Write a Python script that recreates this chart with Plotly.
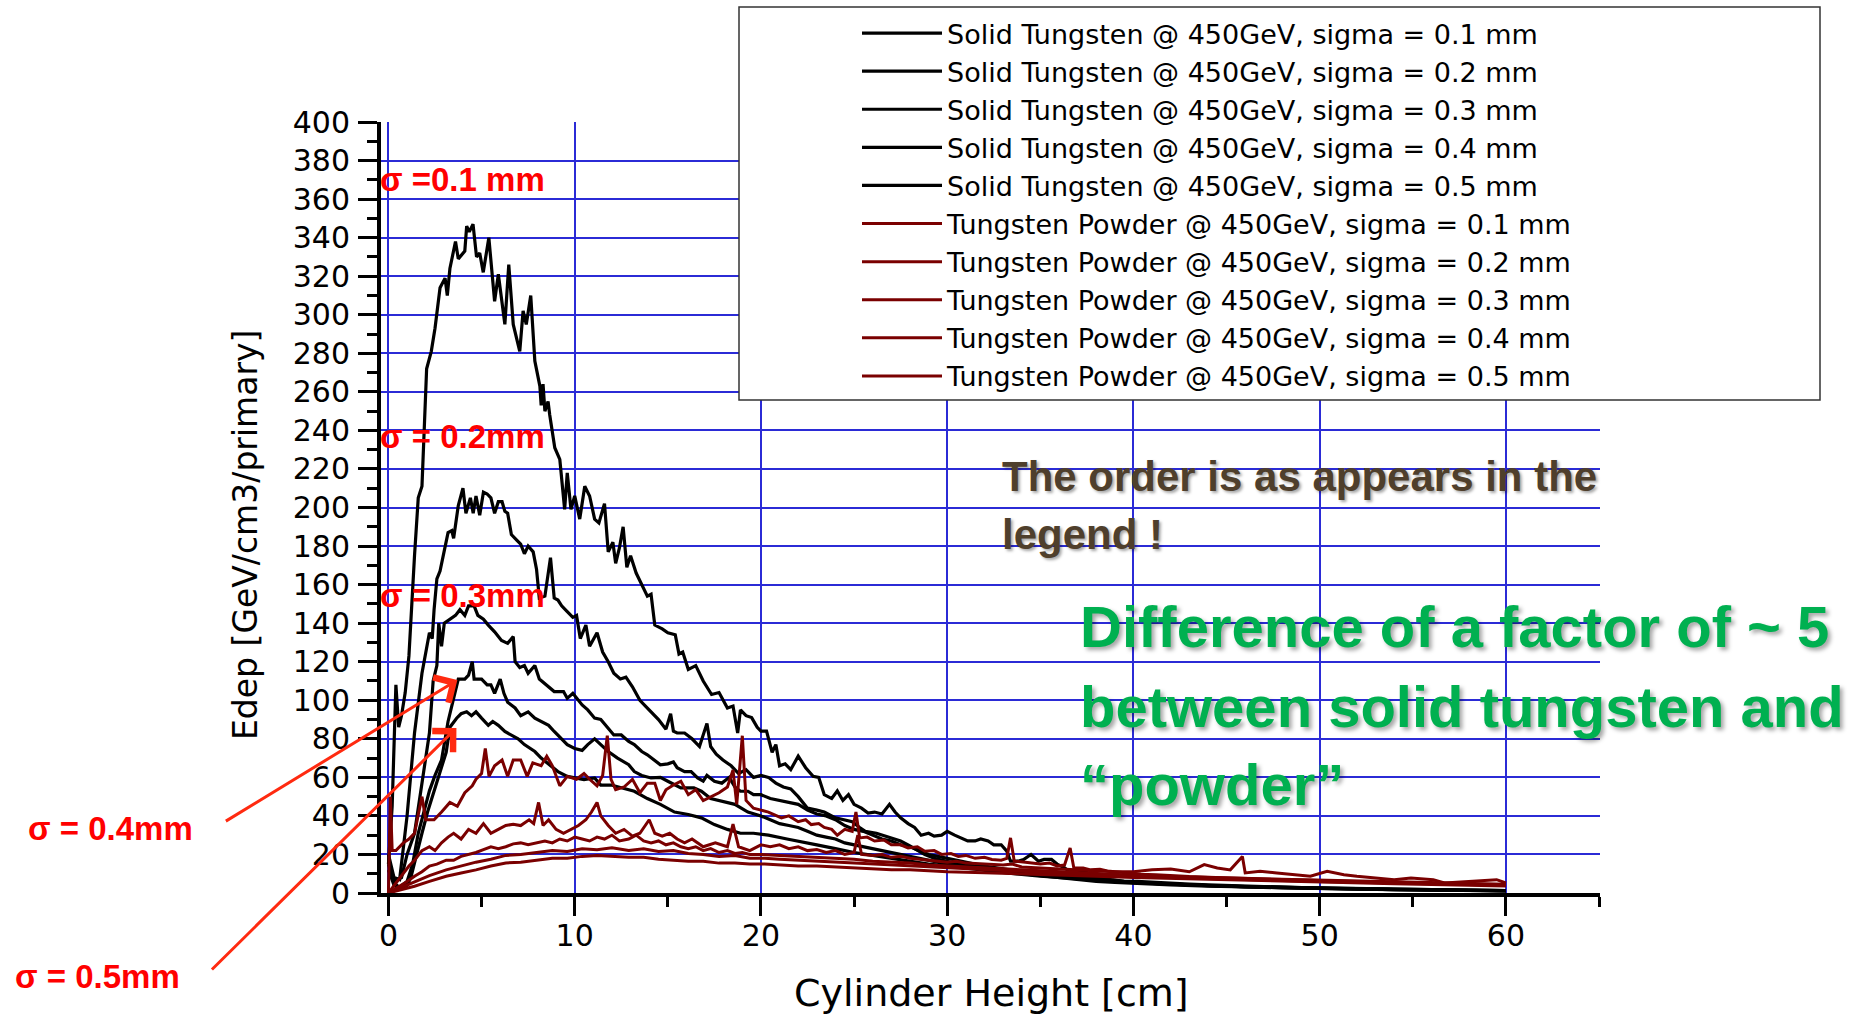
import plotly.graph_objects as go

# ---------------- data ----------------
s1_x = [0, 0.2, 0.4, 0.55, 0.7, 0.9, 1.1, 1.25, 1.4, 1.6, 1.8, 2.05, 2.3, 2.5, 2.77, 3.04, 3.16, 3.3, 3.6, 3.75,
        4.1, 4.2, 4.34, 4.54, 4.73, 4.9, 5.09, 5.39, 5.7, 5.9, 6.25, 6.46, 6.7, 7.05, 7.23, 7.4, 7.64, 7.86, 8.13, 8.2,
        8.3, 8.4, 8.57, 8.66, 8.93, 9.2, 9.46, 9.6, 9.8, 10.0, 10.27, 10.54, 10.8, 11.07, 11.3, 11.6, 11.8, 12.05, 12.2, 12.4,
        12.6, 12.8, 13.0, 13.3, 13.6, 13.9, 14.1, 14.3, 14.7, 15.0, 15.4, 15.6, 15.8, 16.1, 16.5, 16.9, 17.35, 17.75, 18.2, 18.5,
        18.75, 18.9, 19.2, 19.5, 19.8, 20.0, 20.3, 20.6, 20.8, 21.0, 21.3, 21.6, 22.0, 22.4, 22.8, 23.1, 23.4, 23.8, 24.1, 24.4,
        24.7, 25.0, 25.4, 25.75, 26.1, 26.5, 26.9, 27.2, 27.5, 27.9, 28.25, 28.6, 29.0, 29.3, 29.7, 30.0, 30.4, 30.75, 31.1, 31.5,
        31.8, 32.2, 32.5, 32.9, 33.2, 33.4, 33.8, 34.1, 34.5, 34.9, 35.2, 35.6, 35.9, 36.3, 36.6, 37.4, 38.0, 38.8, 39.5, 40.2,
        41, 42, 43, 44, 45, 46, 47, 48, 49, 50, 52, 54, 56, 58, 60]
s1_y = [15, 45, 108, 86, 92, 104, 123, 150, 175, 205, 211, 272, 281, 293, 314, 319, 310, 324, 338, 329,
        333, 346, 343, 347, 330, 332, 322, 340, 307, 321, 295, 326, 295, 281, 302, 295, 310, 276, 263, 253,
        264, 250, 255, 248, 231, 225, 199, 218, 199, 206, 194, 211, 206, 194, 192, 202, 177, 182, 171, 179,
        190, 169, 175, 166, 160, 154, 155, 139, 137, 135, 134, 124, 125, 116, 118, 110, 103, 104, 96, 97,
        83, 95, 92, 91, 86, 84, 84, 73, 77, 66, 67, 64, 71, 65, 60.5, 60, 51, 49, 53, 48,
        51, 46, 44, 41.5, 42, 41, 46, 42, 39, 36, 34, 30, 31, 29.5, 30, 32, 30, 28.6, 27, 27,
        28, 27, 25, 25, 21.7, 16.5, 16.5, 17.4, 20, 16.5, 17.4, 17.4, 15, 13, 11, 11, 9, 7, 6, 6,
        5.5, 5, 4.6, 4.2, 4, 3.6, 3.3, 3, 2.8, 2.5, 2.2, 1.9, 1.6, 1.4, 1.2]

s2_x = [0, 0.3, 0.6, 1.0, 1.4, 1.8, 2.2, 2.35, 2.45, 2.6, 2.77, 3.0, 3.2, 3.4, 3.5, 3.75, 4.0, 4.16, 4.4, 4.55,
        4.7, 4.9, 5.1, 5.3, 5.5, 5.7, 5.9, 6.1, 6.25, 6.4, 6.6, 6.9, 7.1, 7.3, 7.5, 7.77, 7.95, 8.1, 8.4, 8.7,
        8.9, 9.1, 9.3, 9.6, 9.9, 10.1, 10.3, 10.6, 10.8, 11.2, 11.5, 11.8, 12.1, 12.45, 12.75, 13.1, 13.5, 13.8, 14.1, 14.5,
        14.9, 15.15, 15.3, 15.5, 15.9, 16.3, 16.7, 17.1, 17.3, 17.6, 17.96, 18.4, 18.8, 19.2, 19.6, 20.0, 20.4, 20.8, 21.2, 21.6,
        22.0, 22.5, 23.0, 23.4, 24.0, 24.5, 24.9, 25.3, 25.6, 26.2, 27.0, 27.5, 27.9, 28.4, 28.8, 29.3, 29.9, 30.6, 31.5, 32.4,
        33.2, 34.1, 35.0, 35.9, 37.0, 37.7, 38.6, 39.5, 40.5, 42, 44, 46, 48, 50, 52, 54, 56, 58, 60]
s2_y = [20, 8, 7, 40, 83, 114, 135, 132, 147, 163, 167, 177, 187, 188, 184, 201, 210, 197, 205, 197,
        206, 196, 208, 207, 205, 197, 203, 203, 198, 197, 186, 183, 181, 176, 180, 177, 168, 153, 154, 174,
        153, 152, 149, 146, 143, 144, 132, 139, 128, 135, 125, 120, 114, 111, 112, 107, 100, 97, 94, 90,
        85, 93, 84, 83, 83, 80, 76, 88, 76, 72, 69, 66, 62, 64, 60, 61, 60, 57, 55, 54,
        50, 44, 43, 42, 39, 38, 37, 34, 32, 31, 28.6, 27, 25, 22, 20, 18, 16.5, 15, 14, 13,
        12, 11, 10.5, 9.7, 8.8, 8, 7, 6, 5.2, 4.6, 3.8, 3.2, 2.7, 2.3, 2, 1.7, 1.5, 1.3, 1.1]

s3_x = [0, 0.3, 0.7, 1.0, 1.4, 1.8, 2.2, 2.4, 2.6, 2.7, 2.85, 3.0, 3.3, 3.6, 3.84, 4.1, 4.3, 4.6, 4.8, 5.1,
        5.36, 5.7, 6.07, 6.4, 6.7, 6.8, 7.05, 7.3, 7.5, 7.86, 8.1, 8.5, 8.9, 9.4, 9.6, 9.9, 10.1, 10.4, 10.7, 11.07,
        11.4, 11.8, 12.1, 12.5, 12.9, 13.2, 13.6, 13.9, 14.3, 14.6, 15.0, 15.3, 15.5, 15.9, 16.25, 16.6, 16.9, 17.1, 17.5, 17.9,
        18.3, 18.6, 18.9, 19.3, 19.6, 20.0, 20.5, 21.0, 21.5, 22.0, 22.5, 23.0, 23.5, 24.0, 24.5, 25.0, 25.5, 26.0, 26.5, 27.0,
        27.5, 28.0, 28.5, 29.0, 29.5, 30.0, 31.0, 32.0, 33.0, 34.0, 35.0, 36.0, 37.0, 38.0, 39.0, 40.0, 42, 44, 46, 48,
        50, 52, 54, 56, 58, 60]
s3_y = [18, 6, 8, 20, 31, 57, 83, 110, 118, 140, 128, 140, 142, 144, 147, 144, 149, 149, 144, 142,
        139, 135.5, 131, 129.5, 133, 120, 117, 118, 114, 118, 111, 108, 104.5, 104.5, 101, 103.6, 101, 97.6, 95, 90.7,
        90, 85.5, 82, 82, 78.6, 77, 73.4, 71.7, 69, 66.5, 67, 68, 65, 63, 63, 59.7, 58, 61, 58, 57,
        60, 55, 52.8, 52.8, 51, 51, 49, 48, 47, 46, 43, 41, 40, 38, 35, 33, 32, 30, 28, 27,
        25, 24, 22, 20, 19, 18, 16, 14, 12.5, 11, 10, 9, 8, 7, 6.2, 5.5, 4.6, 3.9, 3.3, 2.8,
        2.4, 2.1, 1.8, 1.5, 1.3, 1.1]

s4_x = [0, 0.3, 0.6, 1.0, 1.3, 1.6, 1.9, 2.2, 2.5, 2.85, 3.2, 3.5, 3.75, 4.1, 4.3, 4.5, 4.6, 5.0, 5.3, 5.5,
        5.7, 6.0, 6.2, 6.4, 6.8, 7.1, 7.5, 7.86, 8.2, 8.6, 8.9, 9.3, 9.6, 10.0, 10.4, 10.7, 11.07, 11.4, 11.8, 12.3,
        12.9, 13.2, 13.6, 14.1, 14.6, 15.0, 15.7, 16.4, 16.8, 17.3, 17.9, 18.6, 19.3, 20.0, 20.5, 21.0, 21.5, 22.0, 22.5, 23.0,
        23.5, 24.0, 24.5, 25.0, 25.5, 26.0, 27.0, 28.0, 29.0, 30.0, 31.0, 32.0, 33.0, 34.0, 35.0, 36.0, 37.0, 38.0, 39.0, 40.0,
        42, 44, 46, 48, 50, 52, 54, 56, 58, 60]
s4_y = [15, 5, 3, 6, 15, 31, 42, 53, 61, 69, 89, 101, 111, 111, 113, 120, 111, 111, 108, 108,
        103.6, 111, 103.6, 99, 96, 92, 94, 90.7, 89, 87, 83.8, 80, 77, 75, 74, 77, 80, 77, 73.4, 70,
        66.6, 63, 61, 59.7, 60, 58, 54.5, 54.5, 52.8, 49, 47.6, 46, 42, 40, 38, 36, 35, 34, 32, 30,
        29, 28, 26, 25, 24, 23, 21, 19, 17, 15, 13.5, 12, 11, 10, 9, 8, 7, 6, 5.5, 5,
        4.2, 3.6, 3.1, 2.7, 2.3, 2, 1.8, 1.6, 1.4, 1.2]

s5_x = [0, 0.3, 0.6, 1.0, 1.2, 1.5, 1.8, 2.1, 2.45, 2.8, 3.1, 3.3, 3.66, 3.9, 4.2, 4.46, 4.7, 5.0, 5.36, 5.6,
        5.9, 6.25, 6.6, 6.96, 7.3, 7.86, 8.2, 8.66, 9.1, 9.6, 10.0, 10.5, 11.07, 11.4, 11.96, 12.5, 13.2, 13.9, 14.6, 15.36,
        16.1, 16.8, 17.5, 18.2, 18.9, 19.6, 20.4, 21.4, 22, 23, 24, 25, 26, 27, 28, 29, 30, 31, 32, 33,
        34, 35, 36, 37, 38, 39, 40, 42, 44, 46, 48, 50, 52, 54, 56, 58, 60]
s5_y = [12, 4, 2, 4, 8, 20, 31, 42, 53, 63, 73, 86, 90.7, 93, 94, 92, 94, 90.7, 87, 89,
        87, 83.8, 82, 80, 77, 73.4, 70, 66.6, 63, 60.5, 59.7, 58.8, 59.7, 56, 56, 54.5, 52.8, 49, 46, 42,
        40.7, 39, 35.5, 33, 31, 31, 30, 28, 27, 25, 23, 21, 19.5, 18, 16.5, 15, 14, 12.8, 11.6, 10.6,
        9.6, 8.8, 8, 7.3, 6.6, 6, 5.4, 4.5, 3.8, 3.3, 2.9, 2.5, 2.2, 1.9, 1.7, 1.5, 1.3]

p1_x = [0, 0.1, 0.2, 0.4, 0.8, 1.1, 1.4, 1.8, 2.0, 2.45, 2.85, 3.3, 3.7, 4.1, 4.5, 4.7, 5.0, 5.2, 5.4, 5.7,
        6.1, 6.4, 6.7, 7.1, 7.45, 7.75, 8.2, 8.5, 8.8, 9.2, 9.6, 10.1, 10.5, 10.8, 11.2, 11.5, 11.75, 11.95, 12.2, 12.65,
        13.1, 13.5, 13.9, 14.3, 14.6, 14.9, 15.3, 15.7, 16.1, 16.5, 16.9, 17.3, 17.75, 18.2, 18.5, 18.7, 19.0, 19.2, 19.6, 20.0,
        20.4, 20.7, 21.1, 21.5, 22.0, 22.4, 22.7, 23.1, 23.4, 23.8, 24.1, 24.5, 24.9, 25.1, 25.3, 25.7, 26.1, 26.6, 27.0, 27.5,
        27.9, 28.4, 28.8, 29.3, 29.7, 30.2, 30.6, 31.0, 31.5, 32.0, 32.4, 32.9, 33.2, 33.4, 33.6, 34.2, 35.0, 35.5, 35.9, 36.3,
        36.6, 36.8, 37.3, 37.7, 38.2, 38.6, 39.1, 39.5, 40.4, 41.2, 42, 43, 44, 45, 46, 47, 48, 49, 50, 51,
        52, 53, 54, 55, 56, 57, 58, 59, 60]
p1_y = [0, 50, 22, 22, 26, 28, 31, 50, 38, 38, 42, 47, 45, 52, 55.6, 59, 62, 75, 60.5, 66,
        69, 60.5, 69, 69, 60.5, 67.5, 66, 71, 66, 55.6, 60.5, 59, 62, 59, 55.6, 61, 81.6, 59, 53.6, 55,
        59, 52, 57, 57, 48, 53.6, 56, 58, 51, 53.6, 48, 50, 52, 55, 63.8, 46, 81.6, 48, 44, 43,
        42, 40.7, 39, 40, 37, 38, 35.5, 36, 34, 33, 30, 33, 32, 42, 28.6, 29, 27, 27.5, 25, 25,
        23.4, 24, 21.7, 22, 20, 20.5, 19, 19.5, 18, 18.5, 17.4, 17, 18, 28.6, 16.5, 16, 15, 15.5, 14, 14.5,
        23.4, 13, 13, 12, 12.3, 11.4, 11, 10.5, 9.7, 9.5, 9, 8.5, 8.2, 7.8, 7.6, 7.2, 7, 6.8, 6.5, 6.4,
        6, 5.7, 5.5, 5.2, 5, 4.7, 4.5, 4.3, 4]

p2_x = [0, 0.4, 0.8, 1.1, 1.4, 1.8, 2.2, 2.5, 2.85, 3.2, 3.5, 3.9, 4.3, 4.7, 5.1, 5.5, 5.9, 6.3, 6.7, 7.1,
        7.55, 7.8, 8.06, 8.3, 8.6, 9.0, 9.4, 9.8, 10.2, 10.6, 10.9, 11.2, 11.4, 11.8, 12.2, 12.65, 13.1, 13.5, 14.0, 14.3,
        14.7, 15.1, 15.5, 15.9, 16.3, 16.9, 17.55, 18.2, 18.5, 18.8, 19.4, 20.0, 20.5, 21.0, 21.5, 22.0, 22.5, 23.0, 23.5, 24.0,
        24.5, 25.0, 25.2, 25.4, 26.0, 26.5, 27.0, 27.5, 28.0, 28.5, 29.0, 29.5, 30.0, 30.5, 31.0, 32.0, 33.0, 33.5, 34.0, 35.0,
        36.0, 37.0, 38.0, 39.0, 40.0, 41.0, 42.0, 43.0, 43.8, 44.5, 45.2, 45.85, 46.0, 46.8, 47.7, 48.6, 49.5, 50.4, 51.3, 52.0,
        53.1, 54.0, 54.9, 56.1, 56.7, 58.1, 59.5, 60.0]
p2_y = [0, 5, 10, 14, 17, 22, 24, 22, 26, 29, 31, 28, 33, 31, 36, 31, 33, 35, 35.7, 35,
        38, 36, 47, 35, 38, 33, 31, 33, 35, 38, 42, 47, 40, 35, 31, 33, 29.5, 31, 38, 31,
        29.5, 31, 28, 26, 28, 24, 26, 24, 35.7, 24, 22, 25, 24, 25, 23, 24, 22, 22.5, 21, 22,
        20, 21, 30, 20, 19.5, 20, 18.5, 19, 18, 17.5, 17, 16.5, 16, 16.5, 15.5, 15, 14.5, 15, 13.5, 13,
        12.5, 12, 11.5, 11, 11, 12, 12.5, 11, 14.7, 13, 12, 19, 10.4, 11.3, 10.4, 9.5, 8.7, 11.3, 9.5, 8.7,
        7.8, 6.9, 7.8, 6.9, 5.2, 6, 6.9, 5.2]

p3_x = [0, 0.6, 1.0, 1.4, 1.8, 2.2, 2.6, 3.1, 3.5, 3.9, 4.3, 4.7, 5.1, 5.5, 5.9, 6.3, 6.7, 7.1, 7.5, 8.0,
        8.4, 8.8, 9.2, 9.6, 10.0, 10.4, 10.8, 11.2, 11.6, 12.0, 12.4, 12.9, 13.3, 13.7, 14.1, 14.5, 14.9, 15.3, 15.7, 16.1,
        16.5, 16.9, 17.3, 17.75, 18.2, 18.6, 19.0, 19.4, 20, 21, 22, 23, 24, 25, 26, 27, 28, 29, 30, 31,
        32, 33, 34, 35, 36, 37, 38, 39, 40, 42, 44, 46, 48, 50, 52, 54, 56, 58, 60]
p3_y = [0, 3.5, 6, 8.7, 11, 14, 15, 17, 17, 19, 20, 21, 22.5, 24, 23, 24, 25.5, 26, 25, 26,
        27, 26, 28, 27, 29, 28, 27, 29, 28, 30, 27, 28, 30, 27, 26, 27, 25, 26, 24, 23,
        24, 22, 23, 21, 22, 20.5, 21, 20, 20, 19.5, 19, 18.5, 18, 17.5, 16.5, 16, 15.5, 14.5, 14, 13.5,
        13, 12.5, 12, 11.5, 11, 10.5, 10, 9.5, 9.2, 8.5, 8, 7.5, 7, 6.6, 6.2, 5.8, 5.4, 5, 4.6]

p4_x = [0, 1.0, 1.4, 2.2, 3.1, 3.9, 4.7, 5.5, 6.3, 7.1, 8.0, 8.8, 9.6, 10.4, 11.2, 12.0, 12.9, 13.7, 14.5, 15.3,
        16.1, 16.9, 17.75, 18.6, 19.4, 20.2, 21, 22, 23, 24, 25, 26, 27, 28, 29, 30, 32, 34, 36, 38,
        40, 42, 44, 46, 48, 50, 52, 54, 56, 58, 60]
p4_y = [0, 4, 6, 9, 12, 14, 16, 17.5, 19.5, 20, 21, 22, 21.5, 23, 22.5, 23.5, 22, 23, 21.5, 22,
        20.5, 20, 19, 19.5, 18, 18, 17.5, 17, 16.5, 16, 15.5, 15, 14.5, 14, 13.5, 13, 12, 11, 10, 9.3,
        8.6, 8, 7.5, 7, 6.5, 6, 5.6, 5.2, 4.8, 4.4, 4]

p5_x = [0, 1.4, 2.2, 3.1, 3.9, 4.7, 5.5, 6.3, 7.1, 8.0, 8.8, 9.6, 10.4, 11.2, 12.0, 12.9, 13.7, 14.5, 15.3, 16.1,
        16.9, 17.75, 18.6, 19.4, 20.2, 21, 22, 23, 24, 25, 26, 27, 28, 29, 30, 32, 34, 36, 38, 40,
        42, 44, 46, 48, 50, 52, 54, 56, 58, 60]
p5_y = [0, 3.5, 6, 8.7, 10.4, 12, 14, 15.6, 16, 17, 18, 18, 19, 19.5, 19, 18.5, 18.5, 17.5, 17, 16.5,
        16.5, 15.5, 15.5, 15, 15, 14.5, 14, 14, 13.5, 13, 12.5, 12, 12, 11.5, 11, 10.5, 10, 9.3, 8.7, 8,
        7.5, 7, 6.5, 6, 5.6, 5.2, 4.8, 4.4, 4, 3.6]

solid_names = ["Solid Tungsten @ 450GeV, sigma = 0.1 mm",
               "Solid Tungsten @ 450GeV, sigma = 0.2 mm",
               "Solid Tungsten @ 450GeV, sigma = 0.3 mm",
               "Solid Tungsten @ 450GeV, sigma = 0.4 mm",
               "Solid Tungsten @ 450GeV, sigma = 0.5 mm"]
powder_names = ["Tungsten Powder @ 450GeV, sigma = 0.1 mm",
                "Tungsten Powder @ 450GeV, sigma = 0.2 mm",
                "Tungsten Powder @ 450GeV, sigma = 0.3 mm",
                "Tungsten Powder @ 450GeV, sigma = 0.4 mm",
                "Tungsten Powder @ 450GeV, sigma = 0.5 mm"]

x_ticks = [0, 10, 20, 30, 40, 50, 60]
y_ticks = list(range(0, 401, 20))

# ---------------- figure ----------------
BLACK = "#000000"
DARKRED = "#7a0000"
GRID = "#2b2bd6"
TXT = "DejaVu Sans"

fig = go.Figure()
solid = [(s1_x, s1_y), (s2_x, s2_y), (s3_x, s3_y), (s4_x, s4_y), (s5_x, s5_y)]
powder = [(p1_x, p1_y), (p2_x, p2_y), (p3_x, p3_y), (p4_x, p4_y), (p5_x, p5_y)]
for (xs, ys), nm in zip(solid, solid_names):
    fig.add_trace(go.Scatter(x=xs, y=ys, mode="lines", name=nm,
                             line=dict(color=BLACK, width=3.2)))
for (xs, ys), nm in zip(powder, powder_names):
    fig.add_trace(go.Scatter(x=xs, y=ys, mode="lines", name=nm,
                             line=dict(color=DARKRED, width=3)))

L, R, T, B = 381, 256, 122, 123
W, H = 1856, 1016
pw, ph = W - L - R, H - T - B


def px(xp):
    return (xp - L) / pw


def py(yp):
    return (H - B - yp) / ph


axis_common = dict(
    showline=True, linecolor="black", linewidth=4,
    ticks="outside", ticklen=19, tickwidth=3, tickcolor="black",
    showgrid=True, gridcolor=GRID, gridwidth=1.5,
    zeroline=False,
    tickfont=dict(family=TXT, size=30, color="black"),
)

fig.update_xaxes(range=[-0.4, 65.05], tickmode="array", tickvals=x_ticks,
                 ticktext=[str(v) for v in x_ticks],
                 minor=dict(dtick=5, tick0=0, ticks="outside", ticklen=10, tickwidth=3,
                            tickcolor="black", showgrid=False),
                 ticklabelstandoff=-6,
                 **axis_common)
fig.update_yaxes(range=[0, 400], tickmode="array", tickvals=y_ticks,
                 ticktext=[str(v) for v in y_ticks],
                 minor=dict(dtick=10, tick0=0, ticks="outside", ticklen=10, tickwidth=3,
                            tickcolor="black", showgrid=False),
                 ticklabelstandoff=2,
                 **axis_common)

annotations = []
# axis titles
annotations.append(dict(text="Cylinder Height [cm]", xref="paper", yref="paper",
                        x=px(991), y=py(993), xanchor="center", yanchor="middle", showarrow=False,
                        font=dict(family=TXT, size=38, color="black")))
annotations.append(dict(text="Edep [GeV/cm3/primary]", xref="paper", yref="paper",
                        x=px(245), y=py(535), xanchor="center", yanchor="middle",
                        showarrow=False, textangle=-90,
                        font=dict(family=TXT, size=33, color="black")))

red_font = dict(family="Liberation Sans", size=33, color="#ff0000", weight="bold")
for txt, xl, yc in [("σ =0.1 mm", 378, 180), ("σ = 0.2mm", 378, 436), ("σ = 0.3mm", 378, 595),
                    ("σ = 0.4mm", 26, 828), ("σ = 0.5mm", 13, 976)]:
    annotations.append(dict(text=txt, xref="paper", yref="paper", x=px(xl), y=py(yc),
                            xanchor="left", yanchor="middle", showarrow=False, font=red_font))

# red arrows (tips in data coords, tails in pixels)
for tip_x, tip_y, ax_, ay_ in [(3.70, 110.5, -233, 142), (3.65, 85.6, -246, 243)]:
    annotations.append(dict(text="", x=tip_x, y=tip_y, xref="x", yref="y",
                            ax=ax_, ay=ay_, axref="pixel", ayref="pixel",
                            showarrow=True, arrowhead=4, arrowsize=1.9, arrowwidth=3,
                            arrowcolor="#ff2a10"))

brown_font = dict(family="Liberation Sans", size=42, color="#4f3f2c", weight="bold",
                  shadow="2px 2px 3px rgba(0,0,0,0.35)")
annotations.append(dict(text="The order is as appears in the", xref="paper", yref="paper",
                        x=px(1000), y=py(476), xanchor="left", yanchor="middle",
                        showarrow=False, font=brown_font))
annotations.append(dict(text="legend !", xref="paper", yref="paper",
                        x=px(1000), y=py(534), xanchor="left", yanchor="middle",
                        showarrow=False, font=brown_font))

green_font = dict(family="Liberation Sans", size=58, color="#00b050", weight="bold",
                  shadow="3px 3px 4px rgba(0,0,0,0.35)")
for txt, yc in [("Difference of a factor of ~ 5", 626), ("between solid tungsten and", 706),
                ("\u201cpowder\u201d", 784)]:
    annotations.append(dict(text=txt, xref="paper", yref="paper", x=px(1078), y=py(yc),
                            xanchor="left", yanchor="middle", showarrow=False, font=green_font))

# legend frame
shapes = [dict(type="rect", xref="paper", yref="paper",
               x0=px(739), x1=px(1820), y0=py(400), y1=py(7),
               line=dict(color="#333333", width=1.5), fillcolor="white", layer="above")]

fig.update_layout(
    width=W, height=H,
    margin=dict(l=L, r=R, t=T, b=B, pad=0, autoexpand=False),
    plot_bgcolor="white", paper_bgcolor="white",
    font=dict(family=TXT, color="black"),
    showlegend=True,
    legend=dict(x=px(857), y=py(9), xanchor="left", yanchor="top",
                bgcolor="rgba(0,0,0,0)", borderwidth=0, itemwidth=80,
                font=dict(family=TXT, size=27, color="black"),
                tracegroupgap=0),
    annotations=annotations,
    shapes=shapes,
)

fig.write_html("out.html")
